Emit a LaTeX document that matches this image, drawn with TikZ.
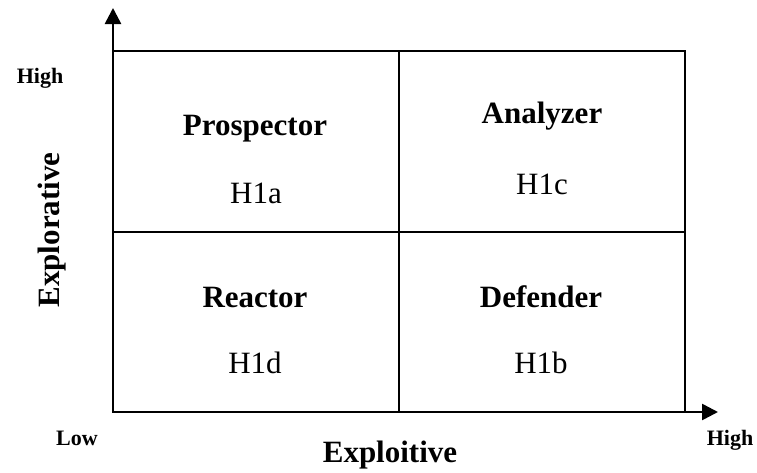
\documentclass[tikz,border=0pt]{standalone}
\usepackage{fontspec}
\setmainfont{Liberation Serif}
\usetikzlibrary{arrows.meta}
\begin{document}
\begin{tikzpicture}[x=1pt,y=-1pt,
  line/.style={line width=2.6pt},
  axis/.style={line width=2.6pt,-{Triangle[length=16pt,width=16pt]}},
  title/.style={font=\fontsize{31}{31}\selectfont\bfseries,anchor=base,inner sep=0pt},
  hyp/.style={font=\fontsize{31}{31}\selectfont,anchor=base,inner sep=0pt},
  lbl/.style={font=\fontsize{22}{22}\selectfont\bfseries,inner sep=0pt},
  axlbl/.style={font=\fontsize{31}{31}\selectfont\bfseries,inner sep=0pt}]
\useasboundingbox (0,0) rectangle (757,472);
\coordinate (O) at (113,412);
\coordinate (TL) at (113,51);
\coordinate (BR) at (685,412);
\coordinate (TM) at (399,51);
\coordinate (BM) at (399,412);
\coordinate (LM) at (113,232);
\coordinate (RM) at (685,232);
\coordinate (YT) at (113,8);
\coordinate (XT) at (718,412);
\draw[line] (TL) rectangle (BR);
\draw[line] (TM) -- (BM);
\draw[line] (LM) -- (RM);
\draw[axis] (O) -- (YT);
\draw[axis] (O) -- (XT);
\node[title] (pros) at (255,135) {Prospector};
\node[hyp] (h1a) at (256,203) {H1a};
\node[title] (ana) at (542,123) {Analyzer};
\node[hyp] (h1c) at (542,194) {H1c};
\node[title] (rea) at (255,307) {Reactor};
\node[hyp] (h1d) at (255,373) {H1d};
\node[title] (def) at (541,307) {Defender};
\node[hyp] (h1b) at (541,373) {H1b};
\node[lbl] (hightl) at (40,78) {High};
\node[lbl] (low) at (77,438) {Low};
\node[lbl] (highbr) at (730,440) {High};
\node[axlbl,rotate=90] (expl) at (52,230) {Explorative};
\node[axlbl] (expt) at (390,455) {Exploitive};
\end{tikzpicture}
\end{document}
